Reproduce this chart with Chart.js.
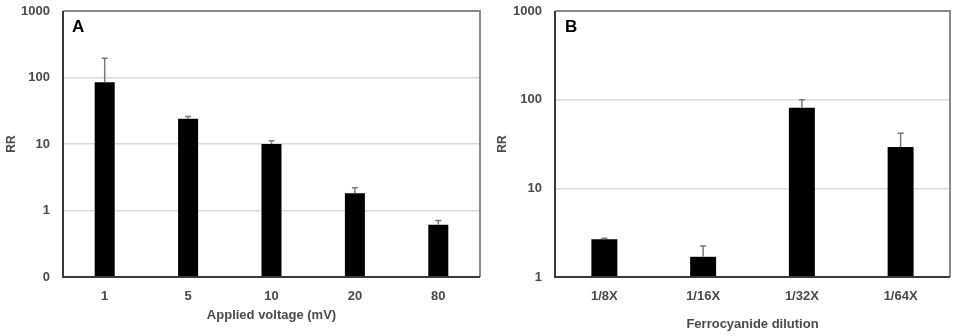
<!DOCTYPE html>
<html>
<head>
<meta charset="utf-8">
<script src="https://cdn.jsdelivr.net/npm/chart.js@4/dist/chart.umd.min.js"></script>
<style>
  html, body { margin: 0; padding: 0; background: #fff; }
  #wrap { position: relative; width: 957px; height: 336px; overflow: hidden; }
  .pane { position: absolute; top: 0; height: 336px; }
  #pa { left: 0; width: 490px; }
  #pb { left: 490px; width: 467px; }
</style>
</head>
<body>
<div id="wrap">
  <div class="pane" id="pa"><canvas id="ca" width="490" height="336"></canvas></div>
  <div class="pane" id="pb"><canvas id="cb" width="467" height="336"></canvas></div>
</div>
<script>
// ---- Panel A data ----
const voltageLabels = ['1', '5', '10', '20', '80'];
const rrVoltage = [85, 24, 10, 1.82, 0.61];
const rrVoltageErr = [110, 2, 1.2, 0.38, 0.1];
const ticksA = [0.1, 1, 10, 100, 1000];
const tickLabelsA = ['0', '1', '10', '100', '1000'];

// ---- Panel B data ----
const dilutionLabels = ['1/8X', '1/16X', '1/32X', '1/64X'];
const rrDilution = [2.66, 1.69, 81, 29.2];
const rrDilutionErr = [0.07, 0.55, 19, 12.5];
const ticksB = [1, 10, 100, 1000];
const tickLabelsB = ['1', '10', '100', '1000'];

const FONT = 'Liberation Sans, Arial, sans-serif';
const TXT = '#4a4a4a';

const errorBars = {
  id: 'errorBars',
  afterDatasetsDraw(chart, args, opts) {
    const ctx = chart.ctx;
    const meta = chart.getDatasetMeta(0);
    const ys = chart.scales.y;
    const vals = chart.data.datasets[0].data;
    ctx.save();
    ctx.strokeStyle = '#7a7a7a';
    ctx.lineWidth = 1.5;
    meta.data.forEach((bar, i) => {
      const top = ys.getPixelForValue(vals[i] + opts.err[i]);
      const base = ys.getPixelForValue(vals[i]);
      ctx.beginPath();
      ctx.moveTo(bar.x, base);
      ctx.lineTo(bar.x, top);
      ctx.moveTo(bar.x - 3, top);
      ctx.lineTo(bar.x + 3, top);
      ctx.stroke();
    });
    ctx.restore();
  }
};

const frame = {
  id: 'frame',
  afterDraw(chart, args, opts) {
    const a = chart.chartArea, ctx = chart.ctx;
    ctx.save();
    ctx.strokeStyle = '#8a8a8a';
    ctx.lineWidth = 2;
    ctx.beginPath();
    ctx.moveTo(a.left, a.top);
    ctx.lineTo(a.right, a.top);
    ctx.lineTo(a.right, a.bottom);
    ctx.stroke();
    ctx.strokeStyle = '#3a3a3a';
    ctx.beginPath();
    ctx.moveTo(a.left, a.top);
    ctx.lineTo(a.left, a.bottom);
    ctx.lineTo(a.right, a.bottom);
    ctx.stroke();
    ctx.fillStyle = '#000';
    ctx.font = 'bold 17px ' + FONT;
    ctx.textBaseline = 'middle';
    ctx.textAlign = 'left';
    ctx.fillText(opts.letter, a.left + opts.dx, a.top + 16);
    ctx.restore();
  }
};

function makeChart(id, labels, data, err, ticks, tickLabels, min, xTitle, cfg) {
  return new Chart(document.getElementById(id), {
    type: 'bar',
    data: {
      labels: labels,
      datasets: [{
        data: data,
        backgroundColor: '#000',
        borderColor: '#000',
        barPercentage: cfg.barPct,
        categoryPercentage: 1.0
      }]
    },
    options: {
      responsive: false,
      animation: false,
      events: [],
      layout: { padding: { left: 0, top: 11, right: cfg.padRight, bottom: 0 } },
      plugins: {
        legend: { display: false },
        tooltip: { enabled: false },
        errorBars: { err: err },
        frame: { letter: cfg.letter, dx: cfg.letterDx }
      },
      scales: {
        x: {
          grid: { display: false, drawTicks: false },
          border: { display: false },
          ticks: { color: TXT, font: { family: FONT, size: 13, weight: 'bold' }, padding: 12 },
          title: { display: true, text: xTitle, color: TXT, font: { family: FONT, size: 13, weight: 'bold' }, padding: { top: 0, bottom: cfg.xTitlePadBottom } },
          afterFit(s) { s.height = 59; s.paddingLeft = 0; s.paddingRight = 0; }
        },
        y: {
          type: 'logarithmic',
          min: min, max: 1000,
          grid: { color: '#d9d9d9', lineWidth: 1.5, drawTicks: false },
          border: { display: false },
          afterBuildTicks(s) { s.ticks = ticks.map(v => ({ value: v })); },
          ticks: {
            color: TXT, font: { family: FONT, size: 13, weight: 'bold' }, padding: 13,
            callback(v) { const i = ticks.indexOf(v); return i >= 0 ? tickLabels[i] : ''; }
          },
          title: { display: true, text: 'RR', color: TXT, font: { family: FONT, size: 12, weight: 'bold' }, padding: { top: cfg.yTitlePad, bottom: 0 } },
          afterFit(s) { s.width = cfg.yWidth; s.paddingTop = 0; s.paddingBottom = 0; }
        }
      }
    },
    plugins: [errorBars, frame]
  });
}

makeChart('ca', voltageLabels, rrVoltage, rrVoltageErr, ticksA, tickLabelsA, 0.1,
  'Applied voltage (mV)', { barPct: 0.24, padRight: 10, yWidth: 63, xTitlePadBottom: 13, yTitlePad: 4, letter: 'A', letterDx: 9 });
makeChart('cb', dilutionLabels, rrDilution, rrDilutionErr, ticksB, tickLabelsB, 1,
  'Ferrocyanide dilution', { barPct: 0.263, padRight: 7, yWidth: 65, xTitlePadBottom: 4, yTitlePad: 5, letter: 'B', letterDx: 10 });
</script>
</body>
</html>
